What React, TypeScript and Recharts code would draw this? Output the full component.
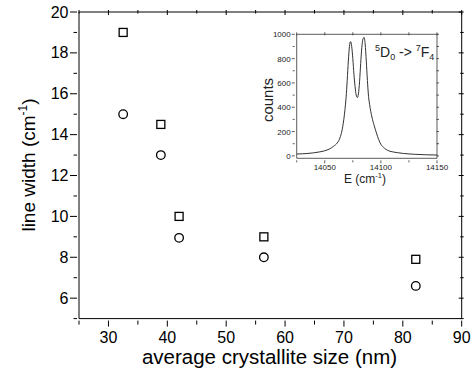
import { ScatterChart, Scatter, LineChart, Line, XAxis, YAxis } from 'recharts';

// crystallite size (nm) against the two measured line widths (cm-1)
const sizes = [32.5, 38.9, 42.0, 56.4, 82.2];
const squareWidths = [19.0, 14.5, 10.0, 9.0, 7.9];
const circleWidths = [15.0, 13.0, 8.95, 8.0, 6.6];

const xTicks = [25, 30, 35, 40, 45, 50, 55, 60, 65, 70, 75, 80, 85, 90];
const yTicks = [5, 6, 7, 8, 9, 10, 11, 12, 13, 14, 15, 16, 17, 18, 19, 20];

// inset: 5D0 -> 7F4 emission band
const energies = [
  14025, 14030, 14035, 14040, 14045, 14050, 14054, 14058, 14061, 14064, 14066, 14068, 14069,
  14070, 14071, 14072, 14073, 14074, 14075, 14076, 14077, 14078, 14079, 14080, 14081, 14082,
  14083, 14084, 14085, 14086, 14087, 14088, 14089, 14090, 14092, 14094, 14096, 14098, 14100,
  14103, 14106, 14110, 14115, 14120, 14130, 14140, 14150,
];
const counts = [
  15, 17, 20, 25, 32, 42, 56, 80, 105, 160, 240, 380, 480,
  620, 780, 900, 940, 900, 800, 670, 570, 500, 480, 510, 610, 760,
  890, 960, 975, 920, 780, 620, 490, 420, 320, 250, 190, 135, 95,
  65, 45, 34, 26, 20, 13, 9, 7,
];
const insetXTicks = [14025, 14050, 14075, 14100, 14125, 14150];
const insetYTicks = [0, 100, 200, 300, 400, 500, 600, 700, 800, 900, 1000];

const FONT = '"Liberation Sans", Arial, sans-serif';

const squares = sizes.map((x, i) => ({ x, y: squareWidths[i] }));
const circles = sizes.map((x, i) => ({ x, y: circleWidths[i] }));
const spectrum = energies.map((e, i) => ({ e, counts: counts[i] }));

const SquareMark = (p: any) => (
  <rect x={p.cx - 4} y={p.cy - 4} width={8} height={8} fill="#fff" stroke="#000" strokeWidth={1.3} />
);
const CircleMark = (p: any) => (
  <circle cx={p.cx} cy={p.cy} r={4.3} fill="#fff" stroke="#000" strokeWidth={1.3} />
);
const NoMark = () => <g />;

// main chart ticks
const BottomTick = ({ x, y, payload }: any) => {
  const v = payload.value;
  const major = v % 10 === 0;
  return (
    <g>
      <line x1={x} x2={x} y1={y} y2={y + (major ? 6 : 4)} stroke="#000" />
      {major && (
        <text x={x} y={y + 22} textAnchor="middle" fontSize={16} fontFamily={FONT} fill="#000">
          {v}
        </text>
      )}
    </g>
  );
};
const TopTick = ({ x, y, payload }: any) => {
  const major = payload.value % 10 === 0;
  return <line x1={x} x2={x} y1={y} y2={y + (major ? 5 : 3.5)} stroke="#000" />;
};
const LeftTick = ({ x, y, payload }: any) => {
  const v = payload.value;
  const major = v % 2 === 0;
  return (
    <g>
      <line x1={x - (major ? 7 : 3.5)} x2={x} y1={y} y2={y} stroke="#000" />
      {major && (
        <text x={x - 8.5} y={y + 5.5} textAnchor="end" fontSize={16} fontFamily={FONT} fill="#000">
          {v}
        </text>
      )}
    </g>
  );
};
const RightTick = ({ x, y, payload }: any) => {
  const major = payload.value % 2 === 0;
  return <line x1={x - (major ? 5 : 3.5)} x2={x} y1={y} y2={y} stroke="#000" />;
};

// inset ticks
const InsetBottomTick = ({ x, y, payload }: any) => {
  const v = payload.value;
  const major = v % 50 === 0;
  return (
    <g>
      <line x1={x} x2={x} y1={y} y2={y + (major ? 3 : 2)} stroke="#333" strokeWidth={0.8} />
      {major && (
        <text x={x} y={y + 10} textAnchor="middle" fontSize={8} fontFamily={FONT} fill="#222">
          {v}
        </text>
      )}
    </g>
  );
};
const InsetTopTick = ({ x, y }: any) => (
  <line x1={x} x2={x} y1={y} y2={y + 3} stroke="#333" strokeWidth={0.8} />
);
const InsetLeftTick = ({ x, y, payload }: any) => {
  const v = payload.value;
  const major = v % 200 === 0;
  return (
    <g>
      <line x1={x - (major ? 3 : 2)} x2={x} y1={y} y2={y} stroke="#333" strokeWidth={0.8} />
      {major && (
        <text x={x - 4} y={y + 3} textAnchor="end" fontSize={8} fontFamily={FONT} fill="#222">
          {v}
        </text>
      )}
    </g>
  );
};
const InsetRightTick = ({ x, y }: any) => (
  <line x1={x - 2.5} x2={x} y1={y} y2={y} stroke="#333" strokeWidth={0.8} />
);

const insetAxisLine = { stroke: '#333', strokeWidth: 0.8 };

const Inset = () => (
  <LineChart
    width={210}
    height={170}
    data={spectrum}
    margin={{ top: 13.3, right: 12, bottom: 30.7, left: 55.7 }}
  >
    <XAxis
      dataKey="e"
      type="number"
      domain={[14025, 14150]}
      ticks={insetXTicks}
      interval={0}
      height={1}
      tickSize={0}
      tickLine={false}
      tick={InsetBottomTick}
      axisLine={insetAxisLine}
    />
    <XAxis
      xAxisId="top"
      orientation="top"
      dataKey="e"
      type="number"
      domain={[14025, 14150]}
      ticks={insetXTicks}
      interval={0}
      height={1}
      tickSize={0}
      tickLine={false}
      tick={InsetTopTick}
      axisLine={insetAxisLine}
    />
    <YAxis
      type="number"
      domain={[-20, 1000]}
      ticks={insetYTicks}
      interval={0}
      width={1}
      tickSize={0}
      tickLine={false}
      tick={InsetLeftTick}
      axisLine={insetAxisLine}
    />
    <YAxis
      yAxisId="right"
      orientation="right"
      type="number"
      domain={[-20, 1000]}
      ticks={insetYTicks}
      interval={0}
      width={1}
      tickSize={0}
      tickLine={false}
      tick={InsetRightTick}
      axisLine={insetAxisLine}
    />
    <Line
      dataKey="counts"
      type="monotone"
      stroke="#333"
      strokeWidth={1}
      dot={false}
      isAnimationActive={false}
    />
    <Line
      dataKey="counts"
      xAxisId="top"
      yAxisId="right"
      stroke="none"
      dot={false}
      isAnimationActive={false}
    />
    <text
      transform="rotate(-90, 33, 80)"
      x={33}
      y={80}
      textAnchor="middle"
      fontSize={15}
      fontFamily={FONT}
      fill="#222"
    >
      counts
    </text>
    <text x={125} y={162.5} textAnchor="middle" fontSize={12} fontFamily={FONT} fill="#222">
      E (cm
      <tspan dy={-4.5} fontSize={7.5}>-1</tspan>
      <tspan dy={4.5}>)</tspan>
    </text>
    <text x={135} y={36.7} fontSize={14} fontFamily={FONT} fill="#222">
      <tspan dy={-6} fontSize={9}>5</tspan>
      <tspan dy={6}>D</tspan>
      <tspan dy={3} fontSize={9}>0</tspan>
      <tspan dy={-3}> -&gt; </tspan>
      <tspan dy={-6} fontSize={9}>7</tspan>
      <tspan dy={6}>F</tspan>
      <tspan dy={3} fontSize={9}>4</tspan>
    </text>
  </LineChart>
);

export default function App() {
  return (
    <div style={{ position: 'fixed', left: 0, top: 0, width: 474, height: 371, background: '#fff' }}>
      <ScatterChart width={474} height={371} margin={{ top: 11, right: 11.3, bottom: 51.4, left: 78 }}>
        <XAxis
          dataKey="x"
          type="number"
          domain={[25, 90]}
          ticks={xTicks}
          interval={0}
          height={1}
          tickSize={0}
          tickLine={false}
          tick={BottomTick}
          axisLine={{ stroke: '#000' }}
        />
        <XAxis
          xAxisId="top"
          orientation="top"
          dataKey="x"
          type="number"
          domain={[25, 90]}
          ticks={xTicks}
          interval={0}
          height={1}
          tickSize={0}
          tickLine={false}
          tick={TopTick}
          axisLine={{ stroke: '#000' }}
        />
        <YAxis
          dataKey="y"
          type="number"
          domain={[5, 20]}
          ticks={yTicks}
          interval={0}
          width={1}
          tickSize={0}
          tickLine={false}
          tick={LeftTick}
          axisLine={{ stroke: '#000' }}
        />
        <YAxis
          yAxisId="right"
          orientation="right"
          dataKey="y"
          type="number"
          domain={[5, 20]}
          ticks={yTicks}
          interval={0}
          width={1}
          tickSize={0}
          tickLine={false}
          tick={RightTick}
          axisLine={{ stroke: '#000' }}
        />
        <Scatter data={squares} shape={SquareMark} isAnimationActive={false} />
        <Scatter data={circles} shape={CircleMark} isAnimationActive={false} />
        <Scatter data={squares} xAxisId="top" yAxisId="right" shape={NoMark} isAnimationActive={false} />
        <text x={269.5} y={364} textAnchor="middle" fontSize={20.5} fontFamily={FONT} fill="#000">
          average crystallite size (nm)
        </text>
        <text
          transform="rotate(-90, 35, 165)"
          x={35}
          y={165}
          textAnchor="middle"
          fontSize={19}
          fontFamily={FONT}
          fill="#000"
        >
          line width (cm
          <tspan dy={-8} fontSize={12}>-1</tspan>
          <tspan dy={8}>)</tspan>
        </text>
      </ScatterChart>
      <div style={{ position: 'absolute', left: 240, top: 20 }}>
        <Inset />
      </div>
    </div>
  );
}
